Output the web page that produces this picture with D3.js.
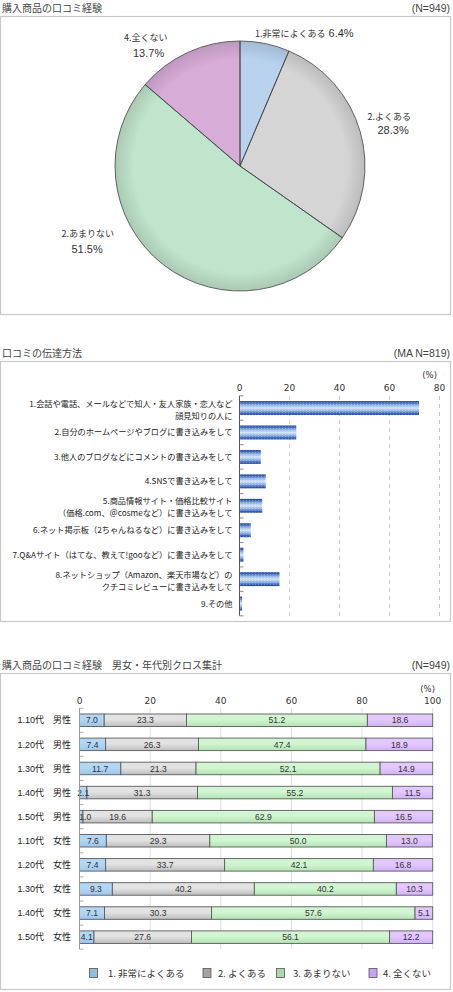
<!DOCTYPE html>
<html><head><meta charset="utf-8">
<script src="https://cdn.jsdelivr.net/npm/d3@7"></script>
<style>body{margin:0;background:#fff}svg{display:block}</style>
</head><body><svg id="c" width="453" height="992"></svg>
<script>
// ---------- data ----------
const pieLabels = ["1.非常によくある", "2.よくある", "2.あまりない", "4.全くない"];
const pieValues = [6.4, 28.3, 51.5, 13.7];

const methodLabels = [
  ["1.会話や電話、メールなどで知人・友人家族・恋人など", "顔見知りの人に"],
  ["2.自分のホームページやブログに書き込みをして"],
  ["3.他人のブログなどにコメントの書き込みをして"],
  ["4.SNSで書き込みをして"],
  ["5.商品情報サイト・価格比較サイト", "（価格.com、＠cosmeなど）に書き込みをして"],
  ["6.ネット掲示板（2ちゃんねるなど）に書き込みをして"],
  ["7.Q&Aサイト（はてな、教えて!gooなど）に書き込みをして"],
  ["8.ネットショップ（Amazon、楽天市場など）の", "クチコミレビューに書き込みをして"],
  ["9.その他"]
];
const methodValues = [71.8, 22.7, 8.5, 10.5, 9.1, 4.5, 1.6, 16.0, 1.0];
const methodTicks = [0, 20, 40, 60, 80];

const crossCategories = ["1.10代　男性", "1.20代　男性", "1.30代　男性", "1.40代　男性", "1.50代　男性",
  "1.10代　女性", "1.20代　女性", "1.30代　女性", "1.40代　女性", "1.50代　女性"];
const crossSeriesNames = ["1. 非常によくある", "2. よくある", "3. あまりない", "4. 全くない"];
const s1 = [7.0, 7.4, 11.7, 2.1, 1.0, 7.6, 7.4, 9.3, 7.1, 4.1];
const s2 = [23.3, 26.3, 21.3, 31.3, 19.6, 29.3, 33.7, 40.2, 30.3, 27.6];
const s3 = [51.2, 47.4, 52.1, 55.2, 62.9, 50.0, 42.1, 40.2, 57.6, 56.1];
const s4 = [18.6, 18.9, 14.9, 11.5, 16.5, 13.0, 16.8, 10.3, 5.1, 12.2];
const crossTicks = [0, 20, 40, 60, 80, 100];

// ---------- styling ----------
const JP = "'Noto Sans CJK JP', sans-serif";
const LAT = "'Liberation Sans', 'Noto Sans CJK JP', sans-serif";
const NUM = "'DejaVu Sans', sans-serif";
const svg = d3.select("#c");
const defs = svg.append("defs");

function panel(y, h) {
  svg.append("rect").attr("x", 0.5).attr("y", y + 0.5).attr("width", 450).attr("height", h)
    .attr("fill", "#fff").attr("stroke", "#c8c8c8").attr("stroke-width", 1.2);
}
function title(t, n, y) {
  svg.append("text").attr("x", 2).attr("y", y).text(t)
    .attr("font-family", JP).attr("font-size", 10).attr("fill", "#444");
  svg.append("text").attr("x", 450).attr("y", y).attr("text-anchor", "end").text(n)
    .attr("font-family", LAT).attr("font-size", 10.5).attr("fill", "#444");
}

// ---------- panel 1: pie ----------
title("購入商品の口コミ経験", "(N=949)", 12);
panel(16, 298);
const pieColors = ["#b9d3ef", "#d5d5d5", "#c1e4cc", "#d7acd7"];
const cx = 240, cy = 166, R = 125;
const rg = defs.append("radialGradient").attr("id", "pieShade").attr("cx", "50%").attr("cy", "50%").attr("r", "50%");
rg.append("stop").attr("offset", "0.85").attr("stop-color", "#000").attr("stop-opacity", 0);
rg.append("stop").attr("offset", "1").attr("stop-color", "#000").attr("stop-opacity", 0.12);
const pie = d3.pie().sort(null).value(d => d)(pieValues);
const arc = d3.arc().innerRadius(0).outerRadius(R);
const pg = svg.append("g").attr("transform", `translate(${cx},${cy})`);
pg.selectAll("path.s").data(pie).join("path").attr("class", "s")
  .attr("d", arc).attr("fill", (d, i) => pieColors[i]);
pg.append("circle").attr("r", R).attr("fill", "url(#pieShade)");
pg.selectAll("path.o").data(pie).join("path").attr("class", "o")
  .attr("d", arc).attr("fill", "none").attr("stroke", "#444").attr("stroke-width", 0.8);
// label layout (text positions only)
const pieLabelPos = [
  {x: 255, y: 36.5, inline: true},
  {x: 367.5, y: 120, px: 377.5, py: 134},
  {x: 61.5, y: 237, px: 71.5, py: 253},
  {x: 124, y: 41, px: 133, py: 56.5}
];
pie.forEach((d, i) => {
  const p = pieLabelPos[i];
  const t = svg.append("text").attr("x", p.x).attr("y", p.y).attr("fill", "#333");
  t.append("tspan").text(pieLabels[i]).attr("font-family", JP).attr("font-size", 9);
  const pct = d3.format(".1f")(pieValues[i]) + "%";
  if (p.inline) {
    t.append("tspan").text(" " + pct).attr("font-family", LAT).attr("font-size", 11);
  } else {
    svg.append("text").attr("x", p.px).attr("y", p.py).text(pct)
      .attr("font-family", LAT).attr("font-size", 11).attr("fill", "#333");
  }
});

// ---------- panel 2: horizontal bars ----------
title("口コミの伝達方法", "(MA  N=819)", 357);
panel(361, 260);
const x2 = d3.scaleLinear().domain([0, 80]).range([239.5, 439.5]);
const y2 = d3.scaleBand().domain(d3.range(methodValues.length)).range([395.8, 615.8]).paddingInner(0.43).paddingOuter(0.215);
const bg = defs.append("linearGradient").attr("id", "barBlue").attr("x1", 0).attr("y1", 0).attr("x2", 0).attr("y2", 1);
[[0, "#23479a"], [0.12, "#3f66b8"], [0.28, "#8cb0e6"], [0.5, "#d3e5fb"], [0.72, "#8cb0e6"], [0.88, "#3f66b8"], [1, "#23479a"]]
  .forEach(s => bg.append("stop").attr("offset", s[0]).attr("stop-color", s[1]));
const pat = defs.append("pattern").attr("id", "stripe").attr("width", 3).attr("height", 2).attr("patternUnits", "userSpaceOnUse");
pat.append("rect").attr("width", 1).attr("height", 1).attr("fill", "#fff").attr("opacity", 0.25);
// grid
svg.append("g").selectAll("line").data(methodTicks.slice(1)).join("line")
  .attr("x1", d => x2(d)).attr("x2", d => x2(d)).attr("y1", 396).attr("y2", 616)
  .attr("stroke", "#bbb").attr("stroke-dasharray", "4,4").attr("stroke-width", 0.8);
// top axis labels
svg.append("g").selectAll("text").data(methodTicks).join("text")
  .attr("x", d => x2(d)).attr("y", 390.5).attr("text-anchor", "middle").text(d => d)
  .attr("font-family", NUM).attr("font-size", 9).attr("fill", "#333");
svg.append("text").attr("x", 437).attr("y", 377.5).attr("text-anchor", "end").text("(%)")
  .attr("font-family", NUM).attr("font-size", 8.5).attr("fill", "#333");
// bars
svg.append("g").selectAll("rect").data(methodValues).join("rect")
  .attr("x", x2(0)).attr("y", (d, i) => y2(i)).attr("width", d => x2(d) - x2(0)).attr("height", y2.bandwidth())
  .attr("fill", "url(#barBlue)");
svg.append("g").selectAll("rect").data(methodValues).join("rect")
  .attr("x", x2(0)).attr("y", (d, i) => y2(i)).attr("width", d => x2(d) - x2(0)).attr("height", y2.bandwidth())
  .attr("fill", "url(#stripe)");
// left axis
svg.append("line").attr("x1", x2(0)).attr("x2", x2(0)).attr("y1", 395.8).attr("y2", 615.8).attr("stroke", "#555");
svg.append("g").selectAll("line").data(d3.range(methodValues.length + 1)).join("line")
  .attr("x1", x2(0)).attr("x2", x2(0) + 4)
  .attr("y1", i => 395.8 + i * y2.step()).attr("y2", i => 395.8 + i * y2.step())
  .attr("stroke", "#888");
// category labels
const lab2 = svg.append("g");
methodLabels.forEach((lines, i) => {
  const c = y2(i) + y2.bandwidth() / 2;
  lines.forEach((l, k) => {
    const off = lines.length > 1 ? 4.5 : 3;
    lab2.append("text").attr("text-anchor", "end").attr("font-family", JP).attr("font-size", 8.2).attr("fill", "#222")
      .attr("x", 232.5).attr("y", c + off + (k - (lines.length - 1) / 2) * 12).text(l);
  });
});

// ---------- panel 3: stacked bars ----------
title("購入商品の口コミ経験　男女・年代別クロス集計", "(N=949)", 669);
panel(673, 316);
const x3 = d3.scaleLinear().domain([0, 100]).range([79.5, 432.7]);
const y3 = d3.scaleBand().domain(crossCategories).range([708.2, 949.2]).paddingInner(0.48).paddingOuter(0.24);
const series = [s1, s2, s3, s4];
const segTop = ["#b2d6f4", "#e2e2e2", "#d2f4d2", "#e2c8fc"];
const segBot = ["#9ec6ea", "#bdbdbd", "#b2e4b2", "#d2b2f6"];
segTop.forEach((c, i) => {
  const g = defs.append("linearGradient").attr("id", "seg" + i).attr("x1", 0).attr("y1", 0).attr("x2", 0).attr("y2", 1);
  g.append("stop").attr("offset", 0).attr("stop-color", c);
  g.append("stop").attr("offset", 0.45).attr("stop-color", c);
  g.append("stop").attr("offset", 1).attr("stop-color", segBot[i]);
});
// grid
svg.append("g").selectAll("line").data(crossTicks.slice(1)).join("line")
  .attr("x1", d => x3(d)).attr("x2", d => x3(d)).attr("y1", 708).attr("y2", 949)
  .attr("stroke", "#d4d4d4").attr("stroke-width", 0.8);
svg.append("g").selectAll("text").data(crossTicks).join("text")
  .attr("x", d => x3(d)).attr("y", 704).attr("text-anchor", "middle").text(d => d)
  .attr("font-family", NUM).attr("font-size", 9).attr("fill", "#333");
svg.append("text").attr("x", 435).attr("y", 692).attr("text-anchor", "end").text("(%)")
  .attr("font-family", NUM).attr("font-size", 8.5).attr("fill", "#333");
const stackData = crossCategories.map((c, i) => {
  const o = {cat: c};
  series.forEach((s, k) => o["k" + k] = s[i]);
  return o;
});
const stacked = d3.stack().keys(["k0", "k1", "k2", "k3"])(stackData);
const sg = svg.append("g");
stacked.forEach((layer, k) => {
  sg.append("g").selectAll("rect").data(layer).join("rect")
    .attr("x", d => x3(d[0])).attr("y", d => y3(d.data.cat))
    .attr("width", d => x3(Math.min(d[1], 100)) - x3(d[0])).attr("height", y3.bandwidth())
    .attr("fill", `url(#seg${k})`).attr("stroke", "#5c5c5c").attr("stroke-width", 0.9);
});
stacked.forEach((layer, k) => {
  sg.append("g").selectAll("text").data(layer).join("text")
    .attr("x", d => (x3(d[0]) + x3(Math.min(d[1], 100))) / 2 + (d[1] - d[0] < 2 ? 4 : 0))
    .attr("y", d => y3(d.data.cat) + y3.bandwidth() / 2 + 3.2)
    .attr("text-anchor", "middle").text(d => d3.format(".1f")(d[1] - d[0]))
    .attr("font-family", "'Liberation Sans Narrow', 'Liberation Sans', sans-serif")
    .attr("font-size", 8.6).attr("fill", "#333");
});
svg.append("line").attr("x1", x3(0)).attr("x2", x3(0)).attr("y1", 708.2).attr("y2", 949.2).attr("stroke", "#999");
svg.append("g").selectAll("line").data(d3.range(crossCategories.length + 1)).join("line")
  .attr("x1", x3(0)).attr("x2", x3(0) + 4)
  .attr("y1", i => 708.2 + i * y3.step()).attr("y2", i => 708.2 + i * y3.step())
  .attr("stroke", "#aaa");
svg.append("g").selectAll("text").data(crossCategories).join("text")
  .attr("x", 71).attr("y", d => y3(d) + y3.bandwidth() / 2 + 3.2).attr("text-anchor", "end").text(d => d)
  .attr("font-family", LAT).attr("font-size", 9).attr("fill", "#222");
// legend
const legColors = ["#92bde3", "#a3a3a3", "#a9d9a9", "#c9a3f1"];
const legX = [89, 202.5, 276, 368.5];
const legTextX = [108, 218, 293, 383];
const lg = svg.append("g");
crossSeriesNames.forEach((n, i) => {
  lg.append("rect").attr("x", legX[i] + 0.5).attr("y", 968.5).attr("width", 8).attr("height", 9)
    .attr("fill", legColors[i]).attr("stroke", "#555").attr("stroke-width", 0.8);
  lg.append("text").attr("x", legTextX[i]).attr("y", 977).text(n)
    .attr("font-family", JP).attr("font-size", 9.5).attr("fill", "#333");
});
</script></body></html>
